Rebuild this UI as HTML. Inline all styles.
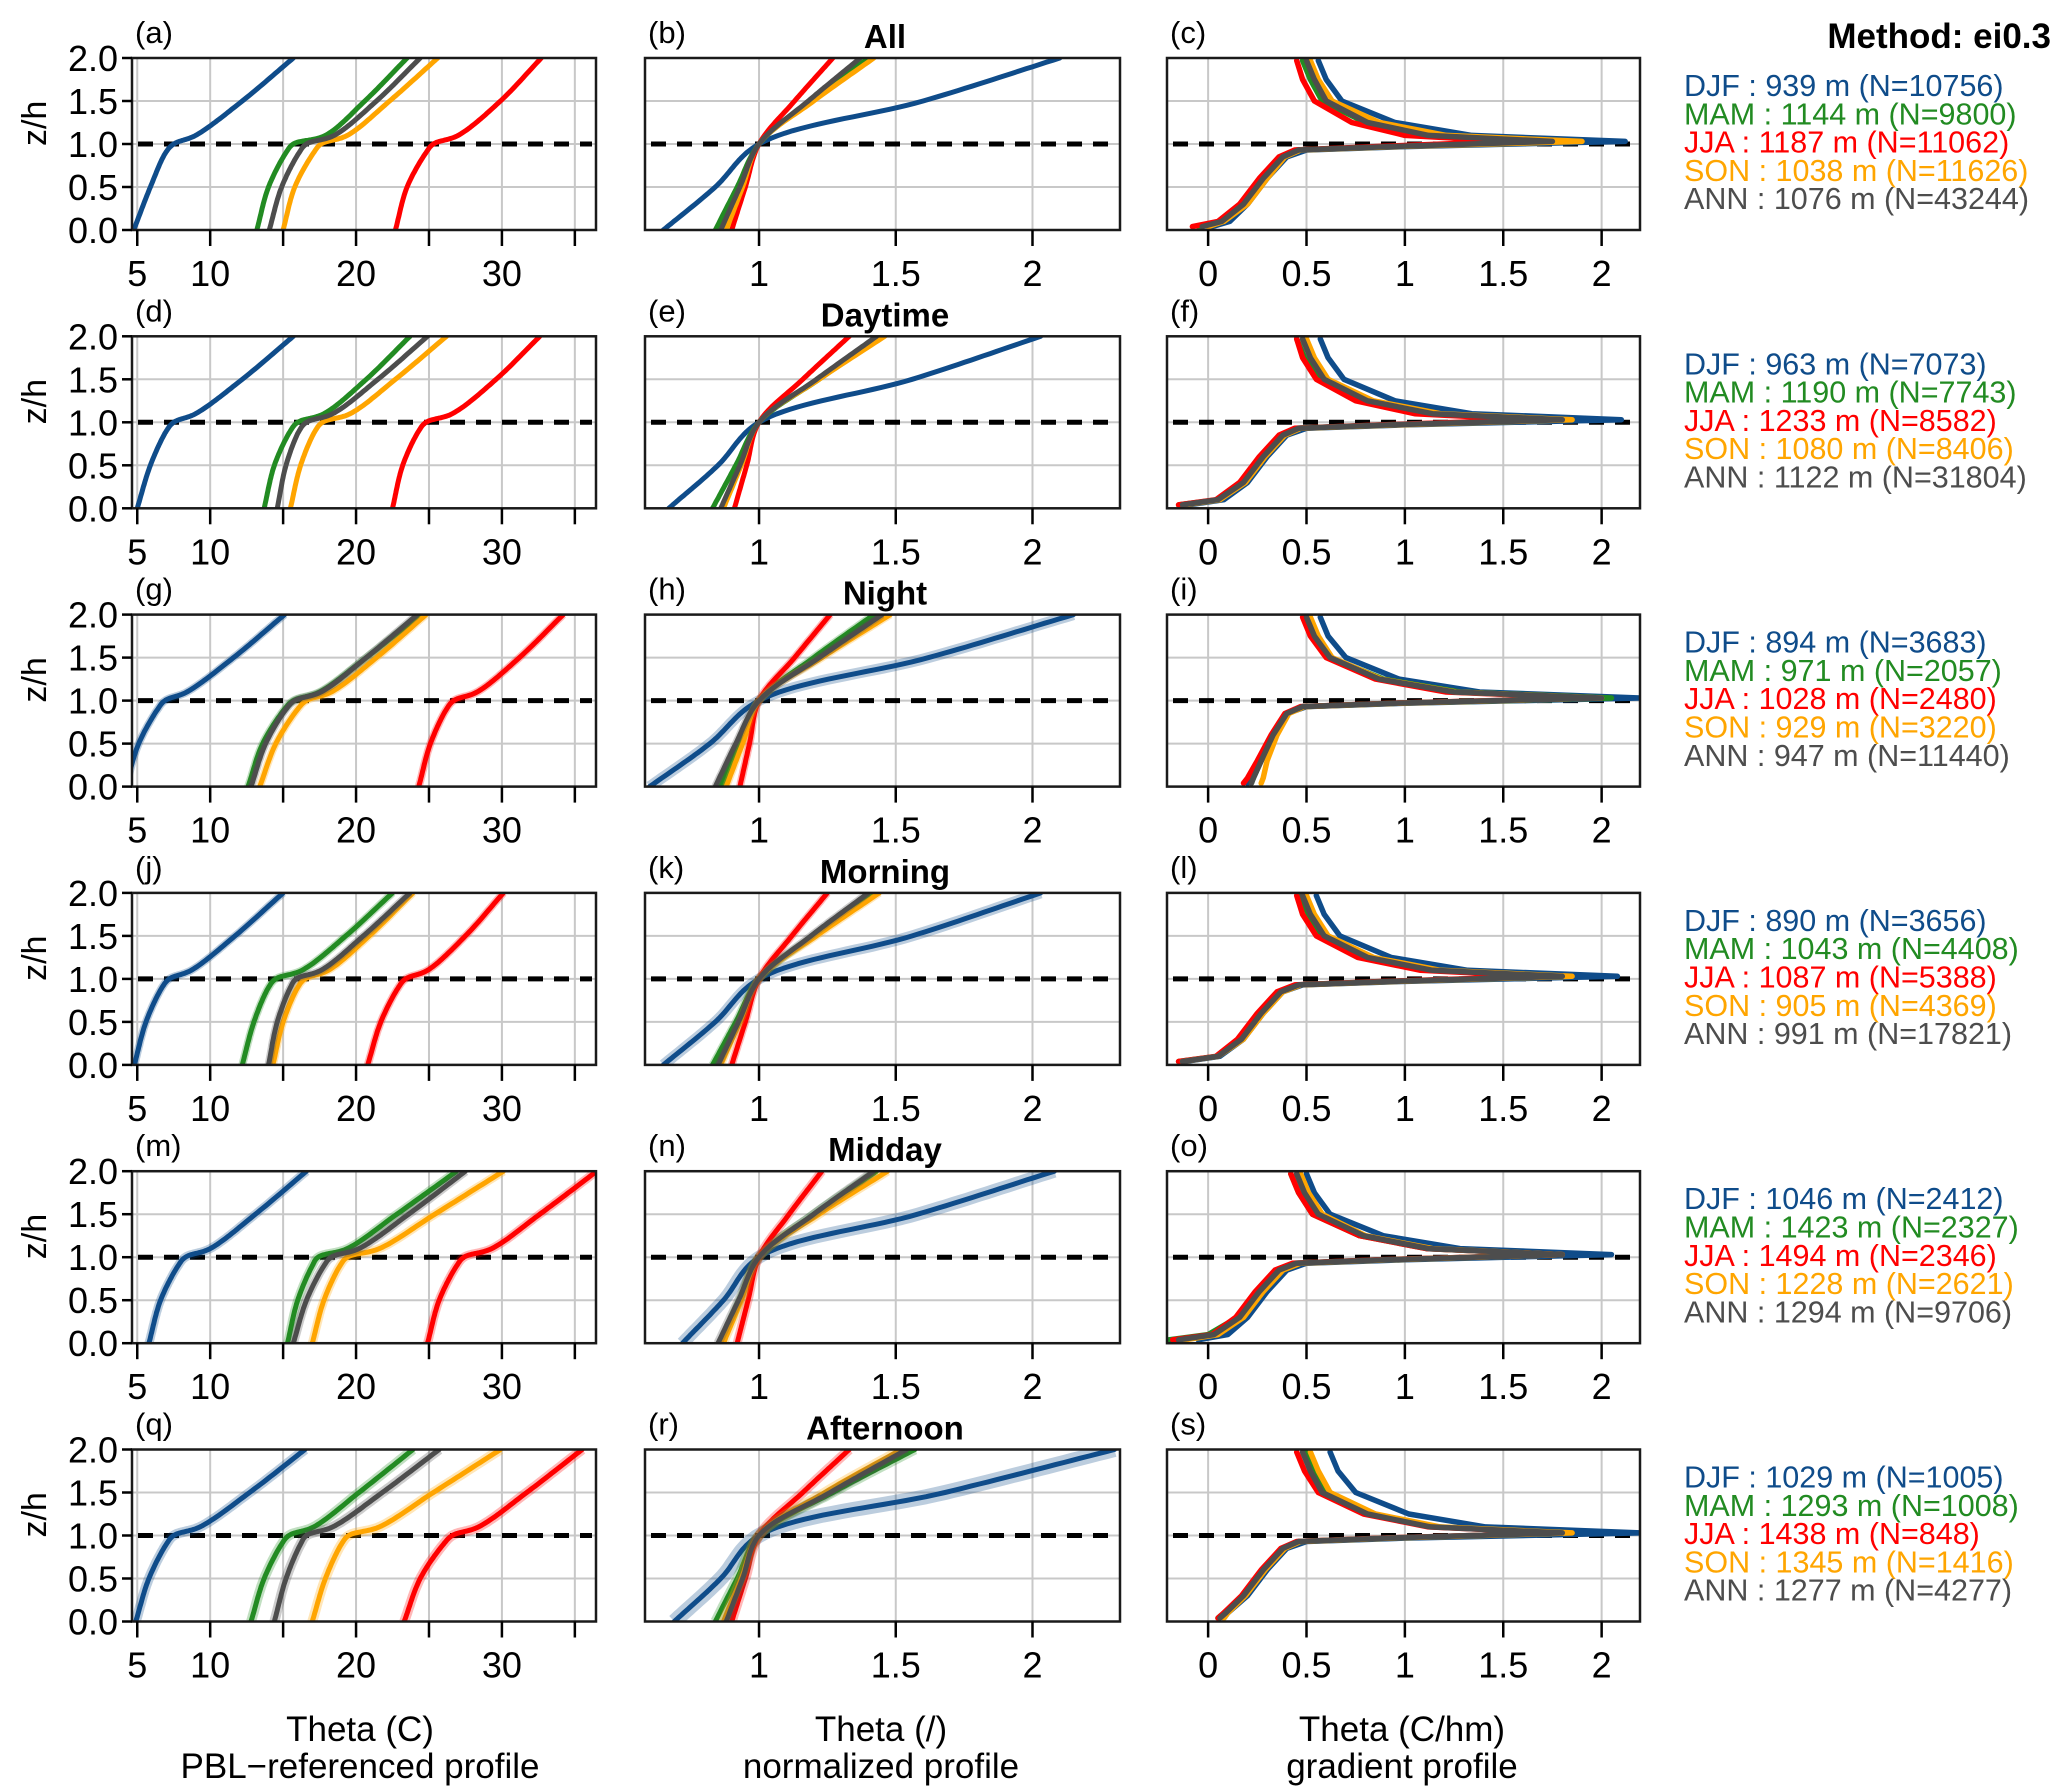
<!DOCTYPE html>
<html><head><meta charset="utf-8"><style>
html,body{margin:0;padding:0;background:#fff}
svg{display:block}
text{font-family:"Liberation Sans",Arial,sans-serif}
</style></head><body>
<svg id="fig" width="2067" height="1790" viewBox="0 0 2067 1790" xmlns="http://www.w3.org/2000/svg"></svg>
<script>
// ---------- data ----------
const seasons = ['DJF','MAM','JJA','SON','ANN'];
const seasonColors = ['#0f4c8a','#228b22','#ff0000','#ffa500','#4d4d4d'];
const rowTitles = ['All','Daytime','Night','Morning','Midday','Afternoon'];
const panelLettersUsed = ['(a)','(b)','(c)','(d)','(e)','(f)','(g)','(h)','(i)','(j)','(k)','(l)','(m)','(n)','(o)','(q)','(r)','(s)'];

const pblHeights = [[939,1144,1187,1038,1076],[963,1190,1233,1080,1122],[894,971,1028,929,947],[890,1043,1087,905,991],[1046,1423,1494,1228,1294],[1029,1293,1438,1345,1277]];
const sampleCounts = [[10756,9800,11062,11626,43244],[7073,7743,8582,8406,31804],[3683,2057,2480,3220,11440],[3656,4408,5388,4369,17821],[2412,2327,2346,2621,9706],[1005,1008,848,1416,4277]];

// column 1: Theta (C) at z/h levels
const zTheta = [0,0.5,0.9,1.0,1.1,1.5,2.0];
const thetaAll = [[4.76,5.9,6.95,7.5,9.0,12.2,15.7],[13.2,14.0,15.2,15.7,17.9,20.6,23.5],[22.7,23.5,24.8,25.3,27.0,29.9,32.7],[15.0,15.8,17.1,17.6,19.4,22.3,25.6],[14.05,14.9,16.1,16.6,18.5,21.4,24.4]];
const thetaDay = [[5.0,5.9,7.0,7.5,9.0,12.2,15.7],[13.7,14.4,15.5,16.0,17.8,20.7,23.7],[22.5,23.2,24.3,24.8,26.6,29.6,32.6],[15.5,16.2,17.2,17.7,19.6,22.7,26.2],[14.6,15.2,16.1,16.6,18.4,21.5,24.9]];
const thetaNight = [[4.2,5.1,6.4,6.9,8.4,11.6,15.1],[12.6,13.6,15.1,15.7,17.5,20.7,24.4],[24.3,25.1,26.2,26.7,28.3,31.2,34.2],[13.4,14.5,16.0,16.6,18.3,21.4,24.8],[12.8,13.8,15.2,15.8,17.6,20.7,24.2]];
const thetaMorning = [[4.8,5.6,6.7,7.2,8.7,11.7,15.0],[12.2,13.0,14.0,14.5,16.3,19.3,22.5],[20.8,21.7,22.9,23.4,24.9,27.5,30.1],[14.3,15.0,16.0,16.5,18.1,20.9,23.9],[14.0,14.6,15.5,15.9,17.6,20.5,23.7]];
const thetaMidday = [[5.8,6.6,7.8,8.3,10.0,13.1,16.6],[15.3,16.0,17.0,17.4,19.4,22.8,26.9],[24.9,25.7,26.9,27.4,29.3,32.6,36.5],[17.0,17.8,18.9,19.4,21.6,25.4,30.1],[15.7,16.6,17.8,18.3,20.2,23.6,27.5]];
const thetaAfternoon = [[4.9,5.8,7.0,7.5,9.3,12.7,16.5],[12.8,13.7,14.9,15.4,17.1,20.2,23.9],[23.3,24.4,26.0,26.6,28.4,31.7,35.5],[17.0,17.9,19.0,19.5,21.6,25.3,29.9],[14.4,15.2,16.2,16.6,18.4,21.8,25.7]];

// column 2: normalized theta
const zNorm = [0,0.5,1.0,1.5,2.0];
const normAll = [[0.65,0.84,1,1.6,2.1],[0.84,0.92,1,1.19,1.40],[0.90,0.95,1,1.13,1.27],[0.88,0.94,1,1.20,1.42],[0.86,0.93,1,1.18,1.37]];
const normDay = [[0.67,0.85,1,1.56,2.03],[0.83,0.915,1,1.22,1.45],[0.91,0.955,1,1.16,1.33],[0.87,0.935,1,1.22,1.46],[0.86,0.93,1,1.21,1.43]];
const normNight = [[0.6,0.82,1,1.62,2.15],[0.86,0.93,1,1.2,1.42],[0.93,0.965,1,1.13,1.26],[0.88,0.94,1,1.23,1.48],[0.84,0.915,1,1.22,1.45]];
const normMorning = [[0.65,0.84,1,1.56,2.03],[0.83,0.915,1,1.2,1.42],[0.9,0.95,1,1.12,1.25],[0.86,0.93,1,1.21,1.44],[0.85,0.925,1,1.19,1.40]];
const normMidday = [[0.72,0.87,1,1.58,2.08],[0.86,0.93,1,1.2,1.43],[0.92,0.96,1,1.11,1.23],[0.87,0.935,1,1.22,1.47],[0.85,0.925,1,1.2,1.42]];
const normAfternoon = [[0.69,0.86,1,1.68,2.3],[0.84,0.92,1,1.27,1.57],[0.9,0.95,1,1.16,1.33],[0.87,0.935,1,1.24,1.52],[0.88,0.94,1,1.26,1.54]];

// column 3: gradient profile (C/hm)
const zGrad = [0.04,0.1,0.3,0.6,0.85,0.93,0.97,1.03,1.1,1.25,1.5,1.75,1.97];
const gradAll = [[0.02,0.11,0.2,0.3,0.4,0.5,1.0,2.12,1.34,0.95,0.68,0.6,0.56],[-0.05,0.06,0.17,0.27,0.37,0.45,0.9,1.75,1.12,0.8,0.58,0.52,0.48],[-0.08,0.05,0.16,0.26,0.36,0.44,0.85,1.55,1.0,0.73,0.54,0.48,0.45],[0.0,0.08,0.2,0.3,0.39,0.47,0.95,1.9,1.21,0.87,0.63,0.56,0.52],[-0.03,0.07,0.18,0.28,0.38,0.46,0.92,1.75,1.12,0.81,0.6,0.54,0.5]];
const gradDay = [[-0.1,0.08,0.2,0.3,0.4,0.5,1.0,2.1,1.34,0.95,0.69,0.61,0.57],[-0.15,0.05,0.17,0.27,0.37,0.45,0.9,1.75,1.1,0.78,0.56,0.49,0.45],[-0.15,0.04,0.16,0.26,0.36,0.44,0.88,1.65,1.05,0.75,0.55,0.48,0.45],[-0.12,0.06,0.19,0.29,0.39,0.47,0.95,1.85,1.18,0.84,0.61,0.54,0.5],[-0.13,0.05,0.18,0.28,0.38,0.46,0.92,1.8,1.14,0.81,0.59,0.52,0.48]];
const gradNight = [[0.2,0.22,0.27,0.33,0.4,0.5,1.0,2.2,1.38,0.97,0.7,0.61,0.57],[0.22,0.23,0.27,0.33,0.4,0.48,0.95,2.05,1.28,0.89,0.62,0.54,0.5],[0.18,0.2,0.25,0.32,0.39,0.47,0.93,1.95,1.21,0.85,0.6,0.52,0.48],[0.27,0.28,0.3,0.35,0.41,0.49,0.96,2.0,1.26,0.88,0.63,0.56,0.52],[0.22,0.23,0.27,0.33,0.4,0.48,0.95,2.0,1.25,0.87,0.62,0.54,0.5]];
const gradMorning = [[-0.12,0.06,0.18,0.28,0.38,0.48,0.98,2.08,1.32,0.93,0.67,0.59,0.55],[-0.15,0.05,0.16,0.26,0.36,0.45,0.9,1.8,1.13,0.8,0.57,0.51,0.47],[-0.15,0.04,0.15,0.25,0.35,0.44,0.88,1.7,1.08,0.76,0.55,0.48,0.45],[-0.13,0.05,0.18,0.28,0.38,0.47,0.94,1.85,1.18,0.84,0.61,0.54,0.5],[-0.13,0.05,0.17,0.27,0.37,0.46,0.92,1.8,1.14,0.81,0.59,0.52,0.48]];
const gradMidday = [[-0.05,0.1,0.2,0.3,0.4,0.5,1.0,2.05,1.28,0.89,0.62,0.54,0.5],[-0.2,0.0,0.15,0.25,0.35,0.44,0.88,1.8,1.11,0.77,0.53,0.46,0.42],[-0.18,0.02,0.14,0.24,0.34,0.43,0.87,1.8,1.11,0.77,0.53,0.46,0.42],[-0.12,0.05,0.18,0.28,0.38,0.47,0.92,1.8,1.14,0.8,0.58,0.51,0.47],[-0.15,0.03,0.16,0.26,0.36,0.45,0.9,1.8,1.12,0.79,0.56,0.49,0.45]];
const gradAfternoon = [[0.08,0.1,0.2,0.3,0.4,0.5,1.0,2.2,1.41,1.02,0.75,0.66,0.62],[0.05,0.08,0.18,0.28,0.38,0.46,0.9,1.8,1.15,0.83,0.6,0.54,0.5],[0.05,0.08,0.17,0.27,0.37,0.45,0.88,1.8,1.12,0.79,0.56,0.49,0.45],[0.08,0.1,0.19,0.29,0.39,0.47,0.92,1.85,1.18,0.85,0.62,0.56,0.52],[0.06,0.09,0.18,0.28,0.38,0.46,0.9,1.8,1.13,0.81,0.58,0.52,0.48]];

// uncertainty band extra width (px) per row
const bandWidth = [0,0,3,3,4,5];

// ticks
const yTicks = [0,0.5,1.0,1.5,2.0];
const yTickLabels = ['0.0','0.5','1.0','1.5','2.0'];
const thetaTicks = [5,10,15,20,25,30,35];
const thetaTickLabels = ['5','10','','20','','30',''];
const normTicks = [1,1.5,2];
const normTickLabels = ['1','1.5','2'];
const gradTicks = [0,0.5,1,1.5,2];
const gradTickLabels = ['0','0.5','1','1.5','2'];

const thetaRows = [thetaAll,thetaDay,thetaNight,thetaMorning,thetaMidday,thetaAfternoon];
const normRows = [normAll,normDay,normNight,normMorning,normMidday,normAfternoon];
const gradRows = [gradAll,gradDay,gradNight,gradMorning,gradMidday,gradAfternoon];

// ---------- layout ----------
const NS = 'http://www.w3.org/2000/svg';
const svg = document.getElementById('fig');
const cols = [
  {x0:132,x1:596,min:4.64,max:36.45,ticks:thetaTicks,labels:thetaTickLabels,z:zTheta,rows:thetaRows,smooth:true,name:'theta'},
  {x0:645,x1:1120,min:0.583,max:2.32,ticks:normTicks,labels:normTickLabels,z:zNorm,rows:normRows,smooth:true,name:'normalized'},
  {x0:1167,x1:1640,min:-0.209,max:2.195,ticks:gradTicks,labels:gradTickLabels,z:zGrad,rows:gradRows,smooth:false,name:'gradient'}
];
const rowTop0 = 58, rowPitch = 278.3, rowH = 172;

function el(tag, attrs, parent){
  const e = document.createElementNS(NS, tag);
  for (const k in attrs) e.setAttribute(k, attrs[k]);
  (parent||svg).appendChild(e);
  return e;
}
// centripetal Catmull-Rom in screen space
function centripetal(P){
  const out=[P[0]];
  const n=P.length;
  for(let i=0;i<n-1;i++){
    const p0 = i>0?P[i-1]:[2*P[0][0]-P[1][0],2*P[0][1]-P[1][1]];
    const p1=P[i], p2=P[i+1];
    const p3 = i<n-2?P[i+2]:[2*P[n-1][0]-P[n-2][0],2*P[n-1][1]-P[n-2][1]];
    const dt=(a,b)=>Math.max(1e-4,Math.pow(Math.hypot(b[0]-a[0],b[1]-a[1]),0.5));
    const t0=0,t1=t0+dt(p0,p1),t2=t1+dt(p1,p2),t3=t2+dt(p2,p3);
    for(let k=1;k<=20;k++){
      const t=t1+(t2-t1)*k/20;
      const L=(a,b,ta,tb)=>[ (tb-t)/(tb-ta)*a[0]+(t-ta)/(tb-ta)*b[0], (tb-t)/(tb-ta)*a[1]+(t-ta)/(tb-ta)*b[1] ];
      const A1=L(p0,p1,t0,t1),A2=L(p1,p2,t1,t2),A3=L(p2,p3,t2,t3);
      const B1=L(A1,A2,t0,t2),B2=L(A2,A3,t1,t3);
      out.push(L(B1,B2,t1,t2));
    }
  }
  return out;
}
function linePath(pts){ return pts.map((p,i)=>(i?'L':'M')+p[0].toFixed(1)+','+p[1].toFixed(1)).join(' '); }

let letterIdx = 0;
for (let r=0;r<6;r++){
  const top = rowTop0 + r*rowPitch, bot = top + rowH;
  const yScale = v => bot - (v/2)*rowH;
  cols.forEach((c,ci)=>{
    const xScale = v => c.x0 + (v-c.min)/(c.max-c.min)*(c.x1-c.x0);
    const g = el('g',{});
    
    
    c.ticks.forEach(t=>{
      const x=xScale(t);
      const gl = el('line',{x1:x,x2:x,y1:top,y2:bot,stroke:'#c8c8c8','stroke-width':2},g);
      
      
    });
    yTicks.forEach(t=>{
      const y=yScale(t);
      const gl = el('line',{x1:c.x0,x2:c.x1,y1:y,y2:y,stroke:'#c8c8c8','stroke-width':2},g);
      
      
    });
    const ref = el('line',{x1:c.x0+6,x2:c.x1-4,y1:yScale(1),y2:yScale(1),stroke:'#000','stroke-width':5,'stroke-dasharray':'15,11'},g);
    
    
    const data = c.rows[r];
    const clipId = 'clip'+r+'_'+ci;
    const cp = el('clipPath',{id:clipId},g);
    el('rect',{x:c.x0,y:top,width:c.x1-c.x0,height:rowH},cp);
    const sg = el('g',{'clip-path':'url(#'+clipId+')'},g);
    data.forEach((vals,si)=>{
      let pts = vals.map((v,k)=>[xScale(v), yScale(c.z[k])]);
      if (c.smooth) pts = centripetal(pts);
      const d = linePath(pts);
      if (ci<2 && bandWidth[r]>0){
        const extra = bandWidth[r]*((si===0 && ci===1)?2:1);
        const band = el('path',{d:d,fill:'none',stroke:seasonColors[si],'stroke-opacity':0.28,'stroke-width':5+extra,'stroke-linejoin':'round'},sg);
        
        
      }
      const p = el('path',{d:d,fill:'none',stroke:seasonColors[si],'stroke-width':ci===2?5.5:5,'stroke-linejoin':'round','stroke-linecap':'round'},sg);
      
      
    });
    const fr = el('rect',{x:c.x0,y:top,width:c.x1-c.x0,height:rowH,fill:'none',stroke:'#1a1a1a','stroke-width':2.5},g);
    
    
    c.ticks.forEach((t,k)=>{
      const x=xScale(t);
      const tk = el('line',{x1:x,x2:x,y1:bot,y2:bot+16,stroke:'#000','stroke-width':2.5},g);
      
      
      if (c.labels[k]){
        const tl = el('text',{x:x,y:bot+56,'text-anchor':'middle','font-size':36,fill:'#000'},g);
        tl.textContent = c.labels[k];
        
        
      }
    });
    if (ci===0){
      yTicks.forEach((t,k)=>{
        const y=yScale(t);
        const tk = el('line',{x1:c.x0-10,x2:c.x0,y1:y,y2:y,stroke:'#000','stroke-width':2.5},g);
        
        
        const tl = el('text',{x:c.x0-14,y:y+13,'text-anchor':'end','font-size':36,fill:'#000'},g);
        tl.textContent = yTickLabels[k];
        
        
      });
      const yl = el('text',{x:0,y:0,'text-anchor':'middle','font-size':34,fill:'#000',transform:'translate(46,'+(top+rowH*0.38)+') rotate(-90)'},g);
      yl.textContent = 'z/h';
      
      
    }
    const pl = el('text',{x:c.x0+3,y:top-15,'font-size':31,fill:'#000'},g);
    pl.textContent = panelLettersUsed[letterIdx++];
    
    
    if (ci===1){
      const tt = el('text',{x:885,y:top-10,'text-anchor':'middle','font-size':33,'font-weight':'bold',fill:'#000'},g);
      tt.textContent = rowTitles[r];
      
      
    }
  });
  const lg = el('g',{});
  
  
  seasons.forEach((s,si)=>{
    const t = el('text',{x:1684,y:top+38+si*28.3,'font-size':30.5,fill:seasonColors[si]},lg);
    t.textContent = s+' : '+pblHeights[r][si]+' m (N='+sampleCounts[r][si]+')';
    
    
  });
}
const mt = el('text',{x:2051,y:48,'text-anchor':'end','font-size':35,'font-weight':'bold',fill:'#000'});
mt.textContent = 'Method: ei0.3';


const bottomTitles = [['Theta (C)','PBL\u2212referenced profile'],['Theta (/)','normalized profile'],['Theta (C/hm)','gradient profile']];
const bottomCenters = [360,881,1402];
bottomTitles.forEach((bt,i)=>{
  const t1 = el('text',{x:bottomCenters[i],y:1741,'text-anchor':'middle','font-size':35,fill:'#000'});
  t1.textContent = bt[0];
  
  
  const t2 = el('text',{x:bottomCenters[i],y:1778,'text-anchor':'middle','font-size':35,fill:'#000'});
  t2.textContent = bt[1];
  
  
});
</script>
</body></html>
